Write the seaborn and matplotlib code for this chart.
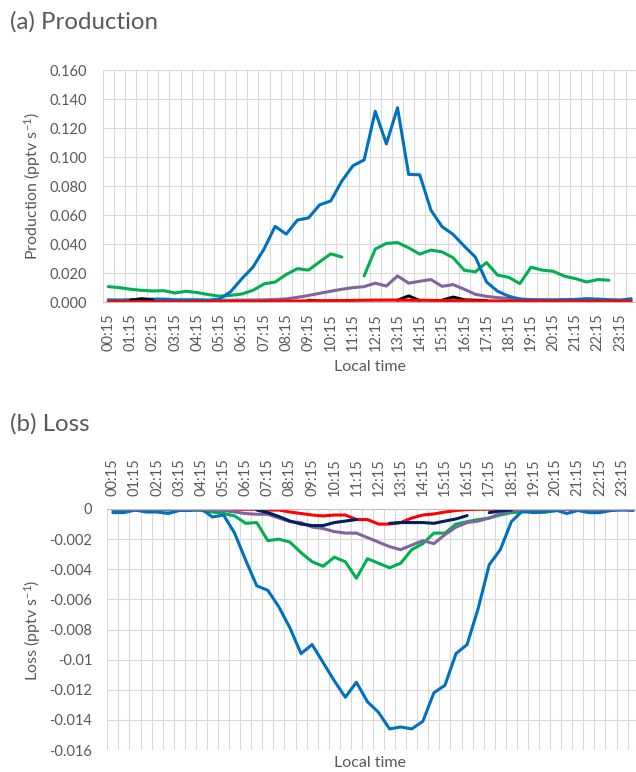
import numpy as np
import pandas as pd
import matplotlib
matplotlib.use("Agg")
import matplotlib.pyplot as plt
import seaborn as sns

nan = np.nan

# Half-hourly local time categories (00:15 ... 23:45)
times = [f"{h:02d}:{m:02d}" for h in range(24) for m in (15, 45)]

# (a) Production, pptv s-1
prod_purple = [0.0016, 0.0014, 0.0013, 0.0013, 0.0013, 0.0012, 0.0012, 0.0012,
               0.0012, 0.0012, 0.0012, 0.0012, 0.0013, 0.0014, 0.0015, 0.0017,
               0.0022, 0.0032, 0.0045, 0.0060, 0.0074, 0.0088, 0.0099, 0.0106,
               0.0130, 0.0110, 0.0180, 0.0130, 0.0143, 0.0155, 0.0108, 0.0120,
               0.0088, 0.0053, 0.0039, 0.0030, 0.0025, 0.0020, 0.0017, 0.0015,
               0.0014, 0.0013, 0.0013, 0.0013, 0.0013, 0.0013, 0.0013, 0.0013]
prod_green = [0.0106, 0.0099, 0.0088, 0.0080, 0.0076, 0.0078, 0.0062, 0.0074,
              0.0065, 0.0051, 0.0040, 0.0046, 0.0055, 0.0080, 0.0125, 0.0138,
              0.0190, 0.0230, 0.0220, 0.0277, 0.0332, 0.0310, nan, 0.0180,
              0.0365, 0.0404, 0.0410, 0.0374, 0.0330, 0.0358, 0.0346, 0.0305,
              0.0219, 0.0208, 0.0272, 0.0185, 0.0170, 0.0127, 0.0240, 0.0220,
              0.0212, 0.0178, 0.0161, 0.0138, 0.0155, 0.0150, nan, nan]
prod_blue = [0.0010, 0.0010, 0.0015, 0.0020, 0.0020, 0.0020, 0.0015, 0.0015,
             0.0015, 0.0012, 0.0020, 0.0071, 0.0160, 0.0240, 0.0365, 0.0522,
             0.0468, 0.0565, 0.0580, 0.0670, 0.0697, 0.0835, 0.0940, 0.0980,
             0.1315, 0.1090, 0.1340, 0.0880, 0.0877, 0.0634, 0.0520, 0.0466,
             0.0385, 0.0310, 0.0138, 0.0074, 0.0040, 0.0020, 0.0014, 0.0014,
             0.0014, 0.0016, 0.0018, 0.0023, 0.0020, 0.0016, 0.0012, 0.0023]
prod_black = [nan, nan, 0.0012, 0.0022, 0.0012, nan, nan, nan,
              nan, nan, nan, nan, nan, nan, nan, nan,
              nan, nan, 0.0012, 0.0008, nan, nan, nan, nan,
              nan, nan, 0.0012, 0.0042, 0.0010, nan, 0.0012, 0.0034,
              0.0015, 0.0012, 0.0010, nan, nan, nan, nan, nan,
              nan, nan, nan, nan, nan, nan, nan, nan]
prod_red = [0.0002, 0.0002, 0.0002, 0.0002, 0.0002, 0.0002, 0.0002, 0.0002,
            0.0003, 0.0003, 0.0004, 0.0004, 0.0005, 0.0005, 0.0006, 0.0006,
            0.0007, 0.0007, 0.0008, 0.0009, 0.0010, 0.0010, 0.0011, 0.0012,
            0.0013, 0.0013, 0.0013, 0.0012, 0.0012, 0.0011, 0.0010, 0.0009,
            0.0009, 0.0008, 0.0008, 0.0007, 0.0007, 0.0006, 0.0006, 0.0006,
            0.0005, 0.0005, 0.0005, 0.0005, 0.0005, 0.0005, 0.0005, 0.0005]

# (b) Loss, pptv s-1
loss_red = [-0.00002] * 13 + [
    -0.00002, -0.00007, -0.00007, -0.0002, -0.0003, -0.0004, -0.00046, -0.0004,
    -0.0004, -0.0007, -0.0007, -0.0010, -0.0010, -0.0009, -0.0006, -0.0004,
    -0.00033, -0.0002, -0.0001, -0.00004] + [-0.00002] * 15
loss_green = [-0.0001, -0.00007, -0.00007, -0.00007, -0.00007, -0.00007, -0.00007, -0.00007,
              -0.0001, -0.0002, -0.0003, -0.00046, -0.00095, -0.0009, -0.0021, -0.0020,
              -0.0022, -0.0029, -0.0035, -0.0038, -0.0032, -0.0035, -0.0046, -0.0033,
              -0.0036, -0.0039, -0.0036, -0.0027, -0.0023, -0.0016, -0.0016, -0.0010,
              -0.00084, -0.0007, -0.0006, -0.0004, -0.00024, -0.0002, -0.0002, -0.0002,
              -0.00013, nan, nan, nan, nan, nan, nan, nan]
loss_blue = [-0.00024, -0.00024, -0.00007, -0.0002, -0.0002, -0.0003, -0.0001, -0.0001,
             0.0, -0.00053, -0.0004, -0.0016, -0.0034, -0.0051, -0.0054, -0.0065,
             -0.0079, -0.0096, -0.0090, -0.0102, -0.0114, -0.0125, -0.0115, -0.0128,
             -0.0135, -0.0146, -0.01447, -0.0146, -0.0141, -0.0122, -0.0117, -0.0096,
             -0.0090, -0.0066, -0.0037, -0.0027, -0.00084, -0.00013, -0.00024, -0.0002,
             -0.00007, -0.0003, -0.0001, -0.00024, -0.00024, -0.0001, -0.00007, -0.0001]
loss_purple = [-0.00002] * 9 + [
    -0.00007, -0.0001, -0.0002, -0.0003, -0.00035, -0.00035, -0.0006, -0.00084,
    -0.0009, -0.0012, -0.0013, -0.0015, -0.0016, -0.0016, -0.0019, -0.0022,
    -0.0025, -0.0027, -0.0024, -0.0021, -0.0023, -0.0017, -0.0012, -0.0009,
    -0.0008, -0.0006, -0.0003, -0.00013] + [-0.00002] * 11
loss_navy = [nan] * 13 + [
    -0.00007, -0.00024, -0.0005, -0.0008, -0.0010, -0.0011, -0.0011, -0.0009,
    -0.0008, -0.0007, nan, nan, -0.00095, -0.0009, -0.0009, -0.0009,
    -0.00095, -0.0008, -0.00066, -0.00044, nan, -0.00024, -0.00013, -0.00007] + [nan] * 11

prod_yticks = [0.0, 0.02, 0.04, 0.06, 0.08, 0.10, 0.12, 0.14, 0.16]
prod_ylabels = ["0.000", "0.020", "0.040", "0.060", "0.080", "0.100", "0.120", "0.140", "0.160"]
loss_yticks = [0, -0.002, -0.004, -0.006, -0.008, -0.01, -0.012, -0.014, -0.016]
loss_ylabels = ["0", "-0.002", "-0.004", "-0.006", "-0.008", "-0.01", "-0.012", "-0.014", "-0.016"]

BLUE, GREEN, PURPLE = "#0070C0", "#00B050", "#8064A2"
BLACK, RED, NAVY = "#000000", "#FF0000", "#002060"
TXT, GRID = "#595959", "#D9D9D9"
TICK_FS = 10.5
LABEL_FS = 11.5
TITLE_FS = 17.3

sns.set_theme(style="white")
plt.rcParams["font.family"] = ["Lato", "DejaVu Sans"]
plt.rcParams["mathtext.default"] = "regular"


def segments(values):
    """Long-form frame; a NaN splits the series into separate runs."""
    v = pd.Series(values, dtype=float)
    seg = v.isna().cumsum()
    df = pd.DataFrame({"x": np.arange(len(v)), "y": v, "seg": seg})
    return df.dropna()


def draw(ax, values, color):
    sns.lineplot(data=segments(values), x="x", y="y", units="seg",
                 estimator=None, color=color, lw=2.2, ax=ax,
                 solid_capstyle="round", solid_joinstyle="round")


def style(ax, yticks, ylabels):
    ax.set_xlim(-0.5, 47.5)
    ax.set_xticks(range(0, 48, 2))
    ax.set_xticklabels(times[::2], rotation=90, color=TXT, fontsize=TICK_FS)
    ax.set_xticks(np.arange(-0.5, 48, 1), minor=True)
    ax.set_yticks(yticks)
    ax.set_yticklabels(ylabels, color=TXT, fontsize=TICK_FS)
    ax.grid(which="minor", axis="x", color=GRID, lw=0.8)
    ax.grid(which="major", axis="y", color=GRID, lw=0.8)
    ax.grid(which="major", axis="x", visible=False)
    ax.tick_params(which="both", length=0)
    ax.tick_params(axis="y", pad=11)
    ax.tick_params(axis="x", pad=8)
    ax.set_xlabel("")
    ax.set_ylabel("")
    for s in ax.spines.values():
        s.set_visible(False)
    ax.set_axisbelow(True)


W, H = 636, 772
fig = plt.figure(figsize=(W / 100, H / 100), dpi=100)

# (a) Production
ax1 = fig.add_axes([102.7 / W, 1 - 302 / H, 534.0 / W, 232 / H])
for vals, col in [(prod_purple, PURPLE), (prod_green, GREEN), (prod_blue, BLUE),
                  (prod_black, BLACK), (prod_red, RED)]:
    draw(ax1, vals, col)
ax1.set_ylim(0, 0.16)
style(ax1, prod_yticks, prod_ylabels)
ax1.spines["bottom"].set_visible(True)
ax1.spines["bottom"].set_color("#BFBFBF")
ax1.spines["bottom"].set_linewidth(0.8)

# (b) Loss
ax2 = fig.add_axes([107.3 / W, 1 - 750 / H, 531.4 / W, 241 / H])
for vals, col in [(loss_red, RED), (loss_green, GREEN), (loss_blue, BLUE),
                  (loss_purple, PURPLE), (loss_navy, NAVY)]:
    draw(ax2, vals, col)
ax2.set_ylim(-0.016, 0)
style(ax2, loss_yticks, loss_ylabels)
ax2.xaxis.tick_top()
ax2.tick_params(axis="x", pad=9, labeltop=True, labelbottom=False)
ax2.spines["top"].set_visible(True)
ax2.spines["top"].set_color("#BFBFBF")
ax2.spines["top"].set_linewidth(0.8)

# Titles and axis titles
fig.text(10 / W, 1 - 22 / H, "(a) Production", fontsize=TITLE_FS, color=TXT, va="center", ha="left")
fig.text(10 / W, 1 - 424 / H, "(b) Loss", fontsize=TITLE_FS, color=TXT, va="center", ha="left")
fig.text(33 / W, 1 - 186 / H, "Production (pptv s$^{-1}$)", rotation=90,
         fontsize=LABEL_FS, color=TXT, va="center", ha="center")
fig.text(33 / W, 1 - 630 / H, "Loss (pptv s$^{-1}$)", rotation=90,
         fontsize=LABEL_FS, color=TXT, va="center", ha="center")
fig.text(370 / W, 1 - 367 / H, "Local time", fontsize=LABEL_FS, color=TXT, va="center", ha="center")
fig.text(370 / W, 1 - 763 / H, "Local time", fontsize=LABEL_FS, color=TXT, va="center", ha="center")

fig.savefig("out.png", dpi=100)
